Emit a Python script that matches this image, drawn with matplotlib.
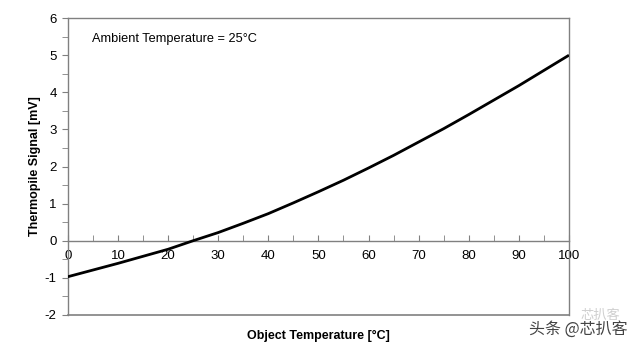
import matplotlib
matplotlib.use('Agg')
import matplotlib.pyplot as plt
from matplotlib.ticker import MultipleLocator

# thermopile output vs object temperature (ambient 25 C)
obj_temp = [0, 5, 10, 15, 20, 25, 30, 35, 40, 45, 50, 55, 60, 65, 70, 75, 80, 85, 90, 95, 100]
signal_mv = [-0.97, -0.79, -0.61, -0.42, -0.23, 0.0, 0.22, 0.47, 0.73, 1.02, 1.32,
             1.63, 1.96, 2.30, 2.66, 3.02, 3.40, 3.79, 4.18, 4.59, 5.00]
x_ticks = [0, 10, 20, 30, 40, 50, 60, 70, 80, 90, 100]
y_ticks = [-2, -1, 0, 1, 2, 3, 4, 5, 6]

plt.rcParams['font.family'] = ['Liberation Sans', 'DejaVu Sans']
plt.rcParams['axes.unicode_minus'] = False
frame = '#808080'
cjk = ['Noto Sans CJK SC', 'DejaVu Sans']

fig = plt.figure(figsize=(6.4, 3.48), dpi=100)
ax = fig.add_axes([0.106, 0.095, 0.783, 0.853])

ax.plot(obj_temp, signal_mv, color='black', lw=2.0, solid_capstyle='butt', zorder=3)

ax.set_xlim(0, 100)
ax.set_ylim(-2, 6)
ax.set_xticks(x_ticks)
ax.set_yticks(y_ticks)
ax.xaxis.set_minor_locator(MultipleLocator(5))
ax.yaxis.set_minor_locator(MultipleLocator(0.5))

# x axis sits on the zero line, frame still closes at the bottom
ax.spines['bottom'].set_position(('data', 0))
for s in ax.spines.values():
    s.set_color(frame)
    s.set_linewidth(1.0)
ax.plot([0, 100], [-2, -2], color=frame, lw=1.2, clip_on=False, zorder=2)

ax.tick_params(axis='x', which='both', direction='in', length=4, color=frame,
               labelsize=9.5, pad=7)
ax.tick_params(axis='y', which='both', direction='out', length=4, color=frame,
               labelsize=9.5, pad=4)

fig.text(0.497, 0.035, 'Object Temperature [°C]', ha='center', va='center',
         fontsize=9, fontweight='bold')
ax.set_ylabel('Thermopile Signal [mV]', fontsize=9, fontweight='bold', labelpad=3)

ax.text(4.8, 5.45, 'Ambient Temperature = 25°C', fontsize=9.2, va='center')

fig.text(0.98, 0.055, '头条 @芯扒客', ha='right', va='center', fontsize=11.5,
         color='#444444', family=cjk)
fig.text(0.969, 0.095, '芯扒客', ha='right', va='center', fontsize=9.5,
         color='#cfcfcf', family=cjk)

fig.savefig('out.png', dpi=100)
